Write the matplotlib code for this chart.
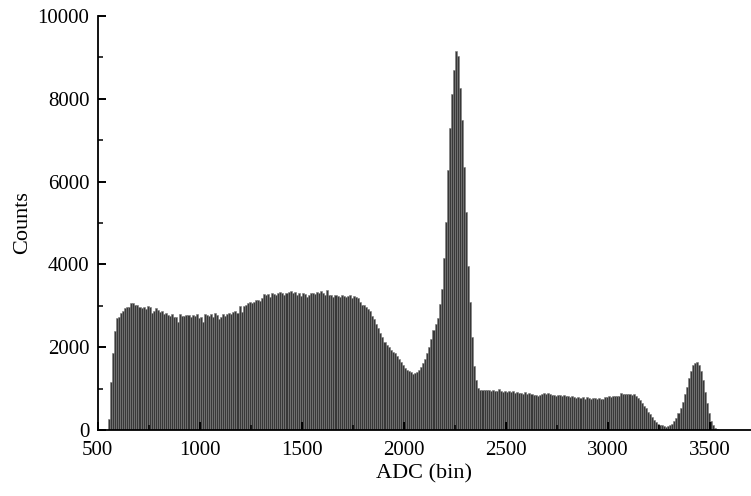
import numpy as np
import matplotlib
matplotlib.use("Agg")
import matplotlib.pyplot as plt
from matplotlib.ticker import MultipleLocator

# ADC spectrum: 10-channel bins starting at 550
bin_start = 550
bin_width = 10

counts = [
    260, 1170, 1860, 2400, 2700, 2740, 2830, 2880, 2940, 2960,   # 550-640
    2980, 3060, 3075, 3020, 3020, 2980, 2940, 2960, 2915, 2995,  # 650-740
    2980, 2820, 2870, 2940, 2900, 2860, 2880, 2800, 2830, 2780,  # 750-840
    2760, 2790, 2720, 2740, 2600, 2790, 2760, 2750, 2770, 2780,  # 850-940
    2720, 2770, 2760, 2790, 2700, 2740, 2620, 2800, 2780, 2750,  # 950-1040
    2810, 2740, 2830, 2780, 2690, 2740, 2790, 2760, 2800, 2820,  # 1050-1140
    2790, 2850, 2880, 2820, 2990, 2850, 2990, 3030, 3060, 3080,  # 1150-1240
    3070, 3100, 3140, 3150, 3120, 3200, 3290, 3260, 3280, 3210,  # 1250-1340
    3300, 3290, 3250, 3320, 3330, 3300, 3260, 3310, 3340, 3350,  # 1350-1440
    3300, 3330, 3260, 3310, 3240, 3300, 3280, 3220, 3270, 3310,  # 1450-1540
    3320, 3280, 3340, 3320, 3360, 3310, 3270, 3390, 3250, 3260,  # 1550-1640
    3220, 3260, 3240, 3210, 3250, 3240, 3220, 3230, 3250, 3200,  # 1650-1740
    3240, 3210, 3180, 3100, 3030, 3010, 2980, 2920, 2870, 2760,  # 1750-1840
    2680, 2560, 2460, 2350, 2240, 2120, 2050, 2000, 1930, 1880,  # 1850-1940
    1850, 1780, 1720, 1650, 1560, 1500, 1450, 1420, 1400, 1360,  # 1950-2040
    1370, 1390, 1440, 1520, 1620, 1720, 1860, 2000, 2200, 2420,  # 2050-2140
    2560, 2700, 3050, 3400, 4150, 5020, 6280, 7300, 8120, 8700,  # 2150-2240
    9140, 9030, 8250, 7490, 6360, 5270, 3950, 3100, 2250, 1550,  # 2250-2340
    1200, 1010, 960, 960, 965, 955, 960, 950, 955, 940,          # 2350-2440
    950, 985, 940, 930, 945, 920, 935, 910, 940, 905,            # 2450-2540
    920, 895, 900, 880, 910, 870, 890, 860, 855, 840,            # 2550-2640
    830, 850, 880, 905, 870, 895, 860, 845, 850, 830,            # 2650-2740
    840, 835, 820, 845, 830, 810, 805, 820, 790, 780,            # 2750-2840
    800, 775, 790, 760, 790, 775, 760, 785, 770, 750,            # 2850-2940
    780, 760, 740, 800, 790, 810, 800, 820, 815, 830,            # 2950-3040
    820, 905, 860, 870, 880, 870, 850, 860, 810, 770,            # 3050-3140
    720, 650, 590, 520, 440, 380, 310, 250, 190, 150,            # 3150-3240
    120, 110, 95, 85, 90, 110, 150, 210, 300, 400,               # 3250-3340
    520, 680, 860, 1050, 1250, 1430, 1560, 1630, 1640, 1560,     # 3350-3440
    1420, 1200, 930, 650, 400, 230, 110, 50, 25, 12,             # 3450-3540
    5,                                                           # 3550
]

x_ticks = [500, 1000, 1500, 2000, 2500, 3000, 3500]
y_ticks = [0, 2000, 4000, 6000, 8000, 10000]

edges = bin_start + bin_width * np.arange(len(counts))

plt.rcParams["font.family"] = ["Liberation Serif", "DejaVu Serif"]

fig = plt.figure(figsize=(7.51, 4.96), dpi=100)
ax = fig.add_axes([0.13, 0.133, 0.87, 0.835])

ax.bar(edges, counts, width=bin_width, align="edge",
       color="#383838", edgecolor="#7c7c7c", linewidth=0.4)

ax.set_xlim(500, 3700)
ax.set_ylim(0, 10000)
ax.set_xticks(x_ticks)
ax.set_yticks(y_ticks)
ax.xaxis.set_minor_locator(MultipleLocator(250))
ax.yaxis.set_minor_locator(MultipleLocator(1000))

for side in ("top", "right"):
    ax.spines[side].set_visible(False)
for side in ("left", "bottom"):
    ax.spines[side].set_linewidth(1.3)

ax.tick_params(which="major", direction="in", length=6, width=1.4,
               labelsize=15)
ax.tick_params(axis="x", which="major", pad=8)
ax.tick_params(axis="y", which="major", pad=6)
ax.tick_params(which="minor", direction="in", length=3.5, width=1.1)

ax.set_xlabel("ADC (bin)", fontsize=16, labelpad=3)
ax.set_ylabel("Counts", fontsize=16, labelpad=4)

fig.savefig("out.png", dpi=100)
